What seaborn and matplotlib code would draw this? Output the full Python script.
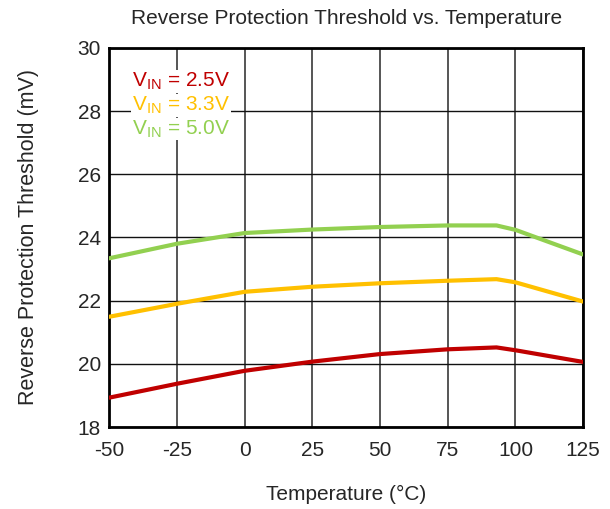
import pandas as pd
import matplotlib
matplotlib.use('Agg')
import matplotlib.pyplot as plt
import seaborn as sns

# --- data ---
temp = [-50, -25, 0, 25, 50, 75, 93, 100, 125]
vin_25 = [18.93, 19.37, 19.78, 20.07, 20.31, 20.46, 20.52, 20.43, 20.06]
vin_33 = [21.49, 21.90, 22.28, 22.44, 22.55, 22.63, 22.68, 22.58, 21.97]
vin_50 = [23.34, 23.80, 24.14, 24.25, 24.33, 24.38, 24.38, 24.24, 23.46]

labels = ['2.5V', '3.3V', '5.0V']
colors = ['#C00000', '#FFC000', '#92D050']
x_ticks = [-50, -25, 0, 25, 50, 75, 100, 125]
y_ticks = [18, 20, 22, 24, 26, 28, 30]

df = pd.DataFrame({'temp': temp * 3,
                   'value': vin_25 + vin_33 + vin_50,
                   'series': [labels[0]] * len(temp) + [labels[1]] * len(temp) + [labels[2]] * len(temp)})

sns.set_style('white')
plt.rcParams['font.family'] = ['Liberation Sans', 'DejaVu Sans']
plt.rcParams['axes.unicode_minus'] = False

fig = plt.figure(figsize=(6.1, 5.09), dpi=100)
ax = fig.add_axes([0.179, 0.161, 0.777, 0.745])

sns.lineplot(data=df, x='temp', y='value', hue='series', palette=colors,
             linewidth=3, legend=False, ax=ax, zorder=3)

ax.set_xlim(-50, 125)
ax.set_ylim(18, 30)
ax.set_xticks(x_ticks)
ax.set_yticks(y_ticks)
ax.tick_params(labelsize=15, length=0)
ax.tick_params(axis='x', pad=10)
ax.tick_params(axis='y', pad=6)
# vertical grid looks a bit softer/wider than the horizontal one
ax.grid(True, axis='x', color='#555555', linewidth=1.4)
ax.grid(True, axis='y', color='#111111', linewidth=1)
for s in ax.spines.values():
    s.set_color('black')
    s.set_linewidth(2)
    s.set_visible(True)

ax.set_xlabel('Temperature (\u00b0C)', fontsize=15, labelpad=18)
ax.set_ylabel('Reverse Protection Threshold (mV)', fontsize=15.5, labelpad=28)
ax.set_title('Reverse Protection Threshold vs. Temperature', fontsize=15, pad=17)

for i, (lab, c) in enumerate(zip(labels, colors)):
    ax.text(0.048, 0.912 - i * 0.063, r'V$_{\mathregular{IN}}$ = ' + lab,
            transform=ax.transAxes, color=c, fontsize=15, va='center', ha='left',
            bbox=dict(facecolor='white', edgecolor='none', pad=0.5), zorder=4)

plt.savefig('out.png', dpi=100)
plt.close()
